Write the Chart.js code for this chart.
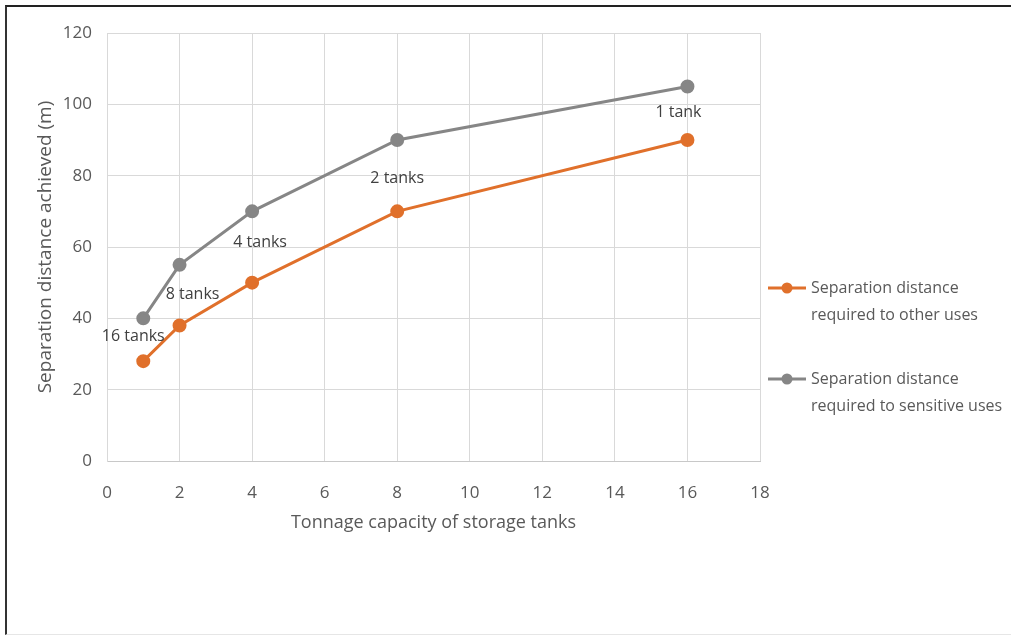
<!DOCTYPE html>
<html>
<head>
<meta charset="utf-8">
<script src="https://cdn.jsdelivr.net/npm/chart.js@4/dist/chart.umd.min.js"></script>
<style>
  html, body { margin: 0; padding: 0; background: #fff; }
  #wrap { position: relative; width: 1011px; height: 636px; overflow: hidden; }
  #frame { position: absolute; left: 5px; top: 5px; right: -10px; bottom: 1px;
           border-top: 2px solid #222; border-left: 2px solid #333; border-bottom: 1px solid #e6e6e6; }
  canvas { position: absolute; left: 0; top: 0; }
</style>
</head>
<body>
<div id="wrap">
  <div id="frame"></div>
  <canvas id="tankChart" width="1011" height="636"></canvas>
</div>
<script>
// tonnage capacity (x) and separation distances (y)
const tonnage = [1, 2, 4, 8, 16];
const otherUses = [28, 38, 50, 70, 90];
const sensitiveUses = [40, 55, 70, 90, 105];
const tankLabels = ['16 tanks', '8 tanks', '4 tanks', '2 tanks', '1 tank'];
const seriesNames = [
  ['Separation distance', 'required to other uses'],
  ['Separation distance', 'required to sensitive uses']
];

const ORANGE = '#e0702b';
const GREY = '#868686';
const TEXT = '#595959';
const FONT = '"Open Sans", sans-serif';

// little nudges so the tank labels sit where they were placed by hand
const labelNudge = [[-10, 18], [13, 30], [8, 31], [0, 38], [-9, 26]];

const annotate = {
  id: 'annotate',
  afterDatasetsDraw(chart) {
    const ctx = chart.ctx;
    const meta = chart.getDatasetMeta(1);
    ctx.save();
    ctx.font = '16px ' + FONT;
    ctx.fillStyle = '#404040';
    ctx.textAlign = 'center';
    ctx.textBaseline = 'middle';
    meta.data.forEach((pt, i) => {
      ctx.fillText(tankLabels[i], pt.x + labelNudge[i][0], pt.y + labelNudge[i][1]);
    });

    // legend on the right, two lines per entry
    const colours = [ORANGE, GREY];
    const tops = [288, 379];
    ctx.textAlign = 'left';
    seriesNames.forEach((lines, i) => {
      const y = tops[i];
      ctx.strokeStyle = colours[i];
      ctx.lineWidth = 3;
      ctx.beginPath();
      ctx.moveTo(768, y);
      ctx.lineTo(806, y);
      ctx.stroke();
      ctx.fillStyle = colours[i];
      ctx.beginPath();
      ctx.arc(787, y, 5.5, 0, Math.PI * 2);
      ctx.fill();
      ctx.fillStyle = TEXT;
      lines.forEach((t, j) => ctx.fillText(t, 811, y + j * 27));
    });
    ctx.restore();
  }
};

const ctx = document.getElementById('tankChart').getContext('2d');
new Chart(ctx, {
  type: 'line',
  data: {
    datasets: [
      {
        label: seriesNames[0].join(' '),
        data: tonnage.map((t, i) => ({ x: t, y: otherUses[i] })),
        borderColor: ORANGE,
        backgroundColor: ORANGE,
        borderWidth: 3,
        pointRadius: 5.5,
        pointHoverRadius: 5.5,
        tension: 0
      },
      {
        label: seriesNames[1].join(' '),
        data: tonnage.map((t, i) => ({ x: t, y: sensitiveUses[i] })),
        borderColor: GREY,
        backgroundColor: GREY,
        borderWidth: 3,
        pointRadius: 5.5,
        pointHoverRadius: 5.5,
        tension: 0
      }
    ]
  },
  options: {
    responsive: false,
    animation: false,
    devicePixelRatio: 1,
    layout: { padding: { left: 0, right: 251, top: 33, bottom: 0 } },
    plugins: { legend: { display: false }, tooltip: { enabled: false } },
    scales: {
      x: {
        type: 'linear',
        min: 0, max: 18,
        ticks: { stepSize: 2, color: TEXT, font: { family: FONT, size: 17 }, padding: 22 },
        grid: { color: '#d9d9d9', drawTicks: false },
        border: { color: '#c8c8c8' },
        title: { display: true, text: 'Tonnage capacity of storage tanks', color: TEXT,
                 font: { family: FONT, size: 18 }, padding: { bottom: 102 } },
        afterFit: s => { s.height = 175; }
      },
      y: {
        min: 0, max: 120,
        ticks: { stepSize: 20, color: TEXT, font: { family: FONT, size: 17 }, padding: 15 },
        grid: { color: '#d9d9d9', drawTicks: false },
        border: { color: '#d9d9d9' },
        title: { display: true, text: 'Separation distance achieved (m)', color: TEXT,
                 font: { family: FONT, size: 19 }, padding: { top: 34 } },
        afterFit: s => { s.width = 107; }
      }
    }
  },
  plugins: [annotate]
});
</script>
</body>
</html>
